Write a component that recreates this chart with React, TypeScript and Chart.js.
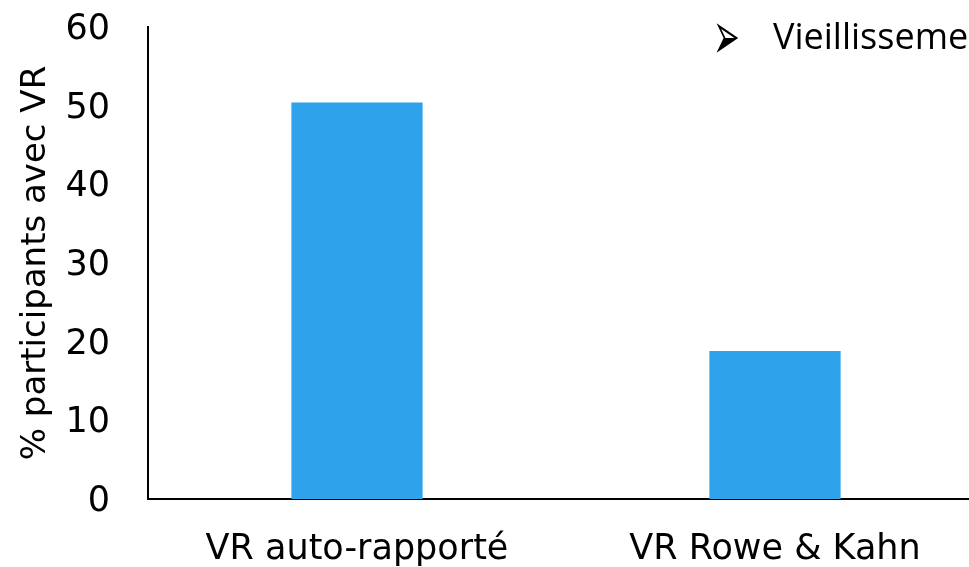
import React, { useEffect, useRef } from 'react';
import { Chart, registerables } from 'chart.js';

Chart.register(...registerables);

const categories: string[] = ['VR auto-rapporté', 'VR Rowe & Kahn'];
const values: number[] = [50.4, 18.8];
const yMin = 0;
const yMax = 60;
const yStep = 10;
const yTitle = '% participants avec VR';
const noteBullet = '➢';
const noteText = 'Vieillissement';

const AXIS_FONT = '"DejaVu Sans", sans-serif';

export default function App() {
  const canvasRef = useRef<HTMLCanvasElement | null>(null);

  useEffect(() => {
    const canvas = canvasRef.current;
    if (!canvas) return;
    const chart = new Chart(canvas, {
      type: 'bar',
      data: {
        labels: categories,
        datasets: [
          {
            data: values,
            backgroundColor: '#2FA2EC',
            borderWidth: 0,
            categoryPercentage: 1,
            barPercentage: 0.314,
          },
        ],
      },
      options: {
        animation: false,
        responsive: true,
        maintainAspectRatio: false,
        layout: { padding: { top: 27, left: 0, right: 0, bottom: 0 } },
        plugins: {
          legend: { display: false },
          tooltip: { enabled: false },
          title: { display: false },
        },
        scales: {
          x: {
            grid: { display: false, drawTicks: false },
            border: { display: true, color: '#000', width: 2 },
            ticks: {
              color: '#000',
              font: { family: AXIS_FONT, size: 35 },
              padding: 30,
            },
            afterFit: (scale: any) => {
              scale.height = 68;
            },
          },
          y: {
            min: yMin,
            max: yMax,
            grid: { display: false, drawTicks: false },
            border: { display: true, color: '#000', width: 2 },
            ticks: {
              stepSize: yStep,
              color: '#000',
              font: { family: AXIS_FONT, size: 35 },
              padding: 38,
              labelOffset: 3,
            },
            title: {
              display: true,
              text: yTitle,
              color: '#000',
              font: { family: AXIS_FONT, size: 34 },
              padding: { top: 16, bottom: 0 },
            },
            afterFit: (scale: any) => {
              scale.width = 148;
              scale.paddingTop = 0;
              scale.paddingBottom = 0;
            },
          },
        },
      },
    });
    return () => chart.destroy();
  }, []);

  return (
    <div
      style={{
        position: 'fixed',
        left: 0,
        top: 0,
        width: 969,
        height: 567,
        overflow: 'hidden',
        background: '#fff',
      }}
    >
      <div style={{ position: 'absolute', left: 0, top: 0, width: 984, height: 567 }}>
        <canvas ref={canvasRef} />
      </div>
      <div
        style={{
          position: 'absolute',
          left: 713,
          top: 18,
          whiteSpace: 'nowrap',
          fontFamily: '"Open Sans", sans-serif',
          fontSize: 36,
          lineHeight: 1,
          color: '#000',
        }}
      >
        <span
          style={{
            fontFamily: '"DejaVu Sans", sans-serif',
            fontSize: 32,
            display: 'inline-block',
            width: 60,
            transform: 'scaleY(2.1) translateY(-1px)',
            transformOrigin: '0 50%',
          }}
        >
          {noteBullet}
        </span>
        <span>{noteText}</span>
      </div>
    </div>
  );
}
